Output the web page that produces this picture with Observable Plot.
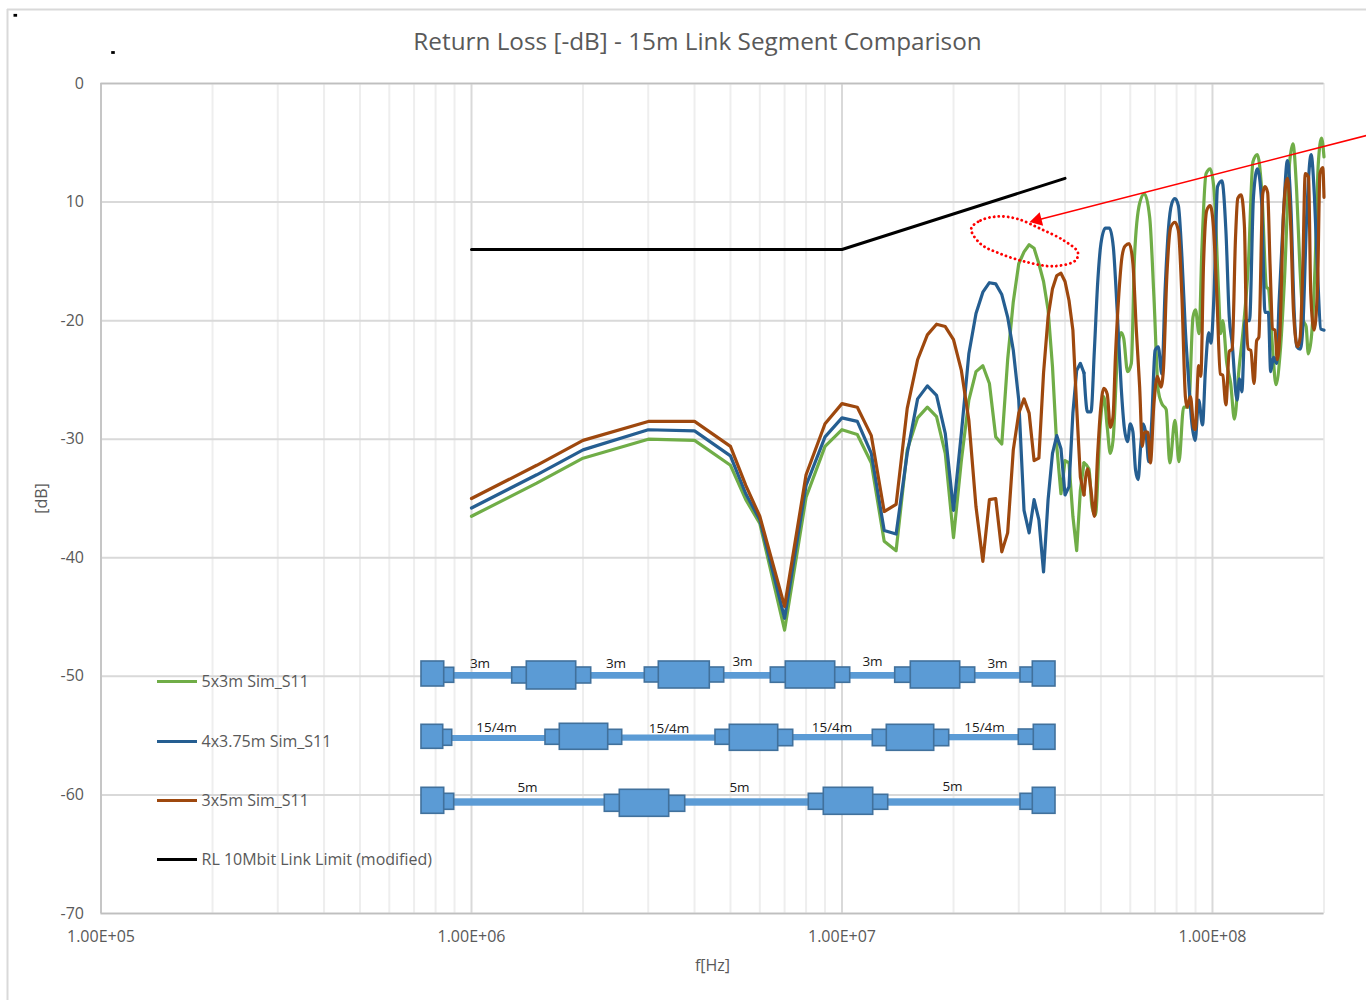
<!DOCTYPE html>
<html>
<head>
<meta charset="utf-8">
<script src="https://cdn.jsdelivr.net/npm/d3@7"></script>
<script src="https://cdn.jsdelivr.net/npm/@observablehq/plot@0.6"></script>
<style>html,body{margin:0;padding:0;background:#fff}svg{display:block}</style>
</head>
<body>
<div id="chart"></div>
<script>
// Return-loss series: [frequency in MHz, dB]
const green5x3 = [[1,-36.5],[1.5,-33.7],[2,-31.6],[3,-30],[4,-30.1],[5,-32.2],[5.5,-35.1],[6,-37.1],[7,-46.1],[8,-34.9],[9,-30.6],[10,-29.2],[11,-29.6],[12,-32],[13,-38.6],[14,-39.4],[15,-30.9],[16,-28.2],[17,-27.3],[18,-28.1],[19,-31.2],[20,-38.3],[21,-31.8],[22,-26.7],[23,-24.3],[24,-23.8],[25,-25.3],[26,-29.8],[27,-30.4],[28,-23.3],[29,-18.4],[30,-15.2],[31,-14.2],[32,-13.6],[33,-13.9],[34,-15.2],[35,-16.7],[36,-19.1],[37,-23.9],[38,-30.6],[39,-34.6],[40,-31.8],[41,-32],[42,-36.5],[43,-39.4],[44,-34.3],[45,-32],[46.4,-32.5],[47.3,-35.7],[48.3,-36.4],[49.8,-28.7],[50.9,-26.4],[52,-29],[53,-31.2],[53.9,-30.1],[55.6,-22.2],[56.7,-21],[57.6,-21.5],[59,-24.3],[60.4,-23.6],[61.6,-14.6],[63.6,-10.1],[65.5,-9.3],[67.7,-11.3],[69.5,-18],[71.4,-25.9],[73,-27],[75,-27.5],[76.7,-32],[79.2,-28.4],[81.2,-31.9],[83.6,-27.3],[86.2,-27.3],[88.6,-19.7],[90,-19.1],[92,-21.1],[93.6,-14.1],[96.1,-7.6],[98.6,-7.2],[101,-9],[103.8,-17.4],[105.3,-21.1],[106.6,-20],[109.3,-23.6],[112,-25.3],[114.6,-28.3],[118,-24],[121,-20.8],[125,-15.2],[128.6,-6.6],[132.2,-6],[135.8,-9],[140,-17.2],[141.5,-17.3],[145.4,-22.5],[148.4,-25.4],[152.3,-22.7],[156.4,-16.6],[161.4,-6.8],[164.9,-5.1],[168.7,-9],[172.2,-15.5],[176,-20],[179,-20.5],[181.4,-22.8],[185.3,-21.1],[189,-15.8],[193,-6.8],[197,-4.6],[200,-6.2]];
const blue4x375 = [[1,-35.8],[1.5,-33],[2,-30.9],[3,-29.2],[4,-29.3],[5,-31.4],[5.5,-34.6],[6,-36.8],[7,-45.1],[8,-33.9],[9,-29.8],[10,-28.2],[11,-28.5],[12,-31.2],[13,-37.7],[14,-38],[15,-31.2],[16,-26.6],[17,-25.5],[18,-26.3],[19,-29.5],[20,-36],[21,-29.5],[22,-22.8],[23,-19.4],[24,-17.6],[25,-16.8],[26,-16.9],[27,-17.8],[28,-19.7],[29,-22.5],[30,-26.7],[31,-36],[32,-37.9],[33,-35.1],[34,-36.8],[35,-41.2],[36,-35.1],[37,-31.2],[38,-29.7],[39,-30.8],[40,-34.7],[41,-34],[42,-27.8],[43,-24.2],[44,-23.6],[45,-24.4],[46,-27.7],[47,-27.7],[48,-22.5],[49,-16.8],[50,-13.5],[51.4,-12.2],[52.7,-12.2],[54,-13.8],[55.3,-19.1],[56.7,-25.6],[57.8,-29],[59,-30.2],[60,-28.7],[61,-29.4],[62,-32.6],[63,-33.4],[64,-30.6],[65,-28.7],[66.3,-29.8],[67.3,-31.9],[68.5,-28.7],[70,-22.5],[71.4,-22.2],[73,-24.5],[74.5,-17.4],[76,-12.4],[77.7,-10.1],[79.2,-9.7],[80.9,-10.3],[82.7,-14.6],[84.5,-20.8],[86.2,-25],[88,-28.7],[89.8,-30.1],[91.8,-26.7],[94,-28.8],[95.7,-24.2],[97.7,-21],[99,-21.9],[101,-17.7],[103.2,-8.7],[106,-8.2],[108.7,-12.4],[111,-19.7],[113,-21.9],[116.5,-26.7],[118.3,-24.9],[120,-26],[122.6,-20],[125.9,-20],[129,-9.6],[132.2,-7.2],[135.8,-10.1],[138.6,-19.3],[141.5,-19.3],[143.6,-24.3],[146.1,-23.1],[149,-23.6],[151.2,-18.6],[155.5,-11],[159.3,-6.5],[162.8,-10.4],[166.2,-19.3],[169,-22.2],[172.5,-22.4],[175.4,-20.5],[179.7,-11],[184.6,-6],[188.5,-9.6],[192.1,-15.8],[196,-20.7],[200,-20.8]];
const brown3x5 = [[1,-35],[1.5,-32.2],[2,-30.1],[3,-28.5],[4,-28.5],[5,-30.6],[5.5,-33.9],[6,-36.5],[7,-44.1],[8,-33],[9,-28.7],[10,-27],[11,-27.3],[12,-29.7],[13,-36.1],[14,-35.5],[15,-27.4],[16,-23.3],[17,-21.2],[18,-20.3],[19,-20.5],[20,-21.6],[21,-24.2],[22,-28.4],[23,-35.7],[24,-40.3],[25,-35.1],[26,-35],[27,-39.5],[28,-37.9],[29,-30.9],[30,-27.8],[31,-26.6],[32,-27.8],[33,-31.8],[34,-31.6],[35,-24.4],[36,-19.7],[37,-17.3],[38,-16.2],[39,-16],[40,-16.7],[41,-18.3],[42,-20.8],[43,-27.3],[44,-33.2],[45,-34.7],[46,-32.5],[47,-34.3],[48,-36.5],[49,-31.2],[49.8,-27.8],[50.9,-25.7],[52,-26.2],[53,-29],[53.9,-28.1],[54.7,-23.1],[55.9,-17.7],[57,-14.6],[58.1,-13.7],[59.6,-13.5],[61,-15.2],[62.3,-20.8],[63.6,-25.6],[64.7,-30.6],[65.5,-29.4],[66.9,-29.4],[68,-32],[69.5,-27],[71,-24.7],[72.6,-25.6],[73.7,-24.2],[75.3,-16.3],[77.2,-12.1],[79.2,-11.7],[80.9,-12.4],[82.7,-18],[84.5,-26.4],[85.4,-27.3],[87.2,-26.4],[89,-29],[89.8,-29.2],[91.8,-23.8],[93,-24.7],[94.6,-15.2],[96.5,-10.7],[98.6,-10.3],[100.6,-12.1],[102.8,-18],[105,-24.5],[106.6,-24.6],[108.7,-27.1],[111,-22.6],[113,-22.4],[115.4,-13],[117,-9.7],[119.5,-9.4],[122,-12.1],[123.4,-20],[125,-22.4],[126.9,-22.5],[129.5,-25.3],[131.6,-21.7],[133.4,-21.4],[136.7,-9.3],[138.6,-8.7],[140.9,-9.2],[143,-15.2],[145.4,-20.7],[147.5,-20.8],[149.6,-23.3],[152.3,-20.5],[155.5,-11],[159.3,-8],[162.8,-12.4],[165.5,-19.3],[169.7,-22.2],[172.5,-21.4],[175.4,-15.2],[178,-7.6],[181.7,-7.9],[184.2,-17.7],[188,-20.8],[192.1,-17.2],[195,-7.6],[198.5,-7.1],[200,-9.6]];
const limitLine = [[1,-14],[10,-14],[40,-8]];

const seriesList = [
  {name:"5x3m Sim_S11", values:green5x3, color:"#70AD47"},
  {name:"4x3.75m Sim_S11", values:blue4x375, color:"#255E91"},
  {name:"3x5m Sim_S11", values:brown3x5, color:"#9E480E"},
  {name:"RL 10Mbit Link Limit (modified)", values:limitLine, color:"#000000"}
];

const xTicks = [1e5,1e6,1e7,1e8];
const xMinor = [2,3,4,5,6,7,8,9].flatMap(m => [1e5,1e6,1e7].map(d => m*d)).concat([2e8]);
const yTicks = [0,-10,-20,-30,-40,-50,-60,-70];
const yTickLabels = ["0","10","-20","-30","-40","-50","-60","-70"];

// Annotation layer, in its own schematic units of the 1366x1000 page
const schematicCables = [
 [453,512,672,678.7],[590,645,672,678.7],[723,771,672,678.7],[849,895,672,678.7],[974,1021,672,678.7],
 [451,546,735,741],[621,716,734.5,740.7],[792,873,734,740.3],[948,1019,734,740.3],
 [453,605,798.3,805.7],[684,809,798.3,805.7],[887,1021,798.3,805.7]
];
const schematicJoints = [
 [442.3,453.7,667.3,682.3],[511.7,526.7,667,683],[575,590.7,667,683],[644.3,659,667,682],[708.3,723.7,667,682],[770.3,785.7,667,682.3],[833.7,849.7,667,682.3],[894.7,910.7,667,682.3],[958.7,974.7,667,682.3],[1020,1034,667,682],
 [441.7,451.7,729.3,745.3],[545,560.3,729.3,744.3],[606.7,621.7,729.3,744.3],[715,730,729.3,744.3],[777,792.7,729.3,745.7],[872.3,887.3,729.3,745.7],[933,948.7,729.3,745.7],[1018.3,1034,729,744.3],
 [442.3,453.7,793.3,809.3],[604.3,620,794.3,811.3],[667.7,684.7,795.3,811.3],[808.3,823.7,793.3,809.3],[871.7,887.7,794.3,809.3],[1020,1034,793.3,809.3]
];
const schematicBlocks = [
 [421,443.7,661,686],[526.3,575.7,661,689],[658.3,709.3,661,688],[785.3,834.7,661,688],[910.3,959.7,661,688],[1032.3,1055,661,686],
 [421,442.7,724.3,748.3],[559.3,607.7,723.3,749.3],[729.3,777.7,724.3,750.3],[886.3,933.7,724.3,750.3],[1033.3,1055,724.3,749.3],
 [421,443.7,787.3,813.3],[619.3,668.7,789.3,816.3],[823.3,872.7,787.3,814.3],[1032.3,1055,787.3,813.3]
];
const schematicLabels = [
 ["3m",479.5,663],["3m",615.5,663],["3m",742,661],["3m",872,661],["3m",997,663],
 ["15/4m",496,727],["15/4m",668.5,728],["15/4m",831.5,727],["15/4m",984,727],
 ["5m",527,787],["5m",739,787],["5m",952,786]
];
const legendRows = [681,741,800,859];
const calloutEllipse = [[970.7,228.3],[980,220],[996.7,216],[1016.7,218.3],[1040,228.3],[1063.3,240],[1077.3,251.7],[1075,260],[1053.3,265.7],[1026.7,261.7],[1000,253.3],[980,243.3]];
const calloutArrow = [[1366,135],[1037,219.5]];
const stray = [[15.3,15.3],[113,52.5]];
const pageFrame = {left:7, top:9};

const fontFamily = '"Open Sans", sans-serif';
const textGrey = "#595959";
const fmtSci = d => d.toExponential(2).toUpperCase().replace(/E\+(\d)$/, "E+0$1");

const annotationLayer = Plot.plot({
  width:1366, height:1000, margin:0,
  style:{background:"transparent", fontFamily},
  x:{domain:[0,1366], range:[0,1366], axis:null},
  y:{domain:[0,1000], range:[0,1000], axis:null},
  marks:[
    Plot.ruleX([pageFrame.left],{y1:pageFrame.top, y2:1000, stroke:"#d9d9d9", strokeWidth:2}),
    Plot.ruleY([pageFrame.top],{x1:pageFrame.left, x2:1366, stroke:"#d9d9d9", strokeWidth:2}),
    Plot.rect(stray,{x1:d=>d[0]-1.8, x2:d=>d[0]+1.8, y1:d=>d[1]-1.4, y2:d=>d[1]+1.4, fill:"#000"}),
    Plot.text(["Return Loss [-dB] - 15m Link Segment Comparison"],{x:()=>697, y:()=>42, text:d=>d, fontSize:24.3, fill:textGrey, lineAnchor:"middle"}),
    Plot.ruleY(seriesList,{x1:157, x2:197, y:(d,i)=>legendRows[i], stroke:d=>d.color, strokeWidth:2.8}),
    Plot.text(seriesList,{x:()=>201, y:(d,i)=>legendRows[i], text:d=>d.name, textAnchor:"start", fontSize:16, fill:textGrey, lineAnchor:"middle"}),
    Plot.rect(schematicCables,{x1:d=>d[0],x2:d=>d[1],y1:d=>d[2],y2:d=>d[3],fill:"#5B9BD5"}),
    Plot.rect(schematicJoints,{x1:d=>d[0],x2:d=>d[1],y1:d=>d[2],y2:d=>d[3],fill:"#5B9BD5",stroke:"#41719C",strokeWidth:1.6}),
    Plot.rect(schematicBlocks,{x1:d=>d[0],x2:d=>d[1],y1:d=>d[2],y2:d=>d[3],fill:"#5B9BD5",stroke:"#41719C",strokeWidth:1.6}),
    Plot.text(schematicLabels,{x:d=>d[1],y:d=>d[2],text:d=>d[0],fontSize:13.5,fontWeight:500,fill:"#1a1a1a",lineAnchor:"middle"}),
    Plot.line(calloutEllipse,{x:d=>d[0],y:d=>d[1],curve:"catmull-rom-closed",stroke:"#FF0000",strokeWidth:2.8,strokeDasharray:"0.1,4.6",strokeLinecap:"round",fill:"none"}),
    Plot.line(calloutArrow,{x:d=>d[0],y:d=>d[1],stroke:"#FF0000",strokeWidth:1.5}),
    Plot.dot([calloutArrow[1]],{x:d=>d[0],y:d=>d[1],symbol:"triangle",r:5.2,fill:"#FF0000",stroke:"none",rotate:-104.4})
  ]
});

const lowBand = d => d[0] <= 45;
const highBand = d => d[0] >= 45;

const chart = Plot.plot({
  width:1366, height:1000,
  marginLeft:100.5, marginRight:42.5, marginTop:83, marginBottom:87,
  style:{fontFamily, background:"#fff"},
  x:{type:"log", domain:[1e5,2e8]},
  y:{domain:[-70,0]},
  marks:[
    Plot.ruleX(xMinor,{stroke:"#eeeeee",strokeWidth:2}),
    Plot.ruleX(xTicks,{stroke:"#d9d9d9",strokeWidth:2}),
    Plot.ruleY(yTicks,{stroke:"#d9d9d9",strokeWidth:2}),
    Plot.ruleX([1e5],{stroke:"#bfbfbf",strokeWidth:1.5}),
    Plot.ruleY([-70,0],{stroke:"#bfbfbf",strokeWidth:1.5}),
    Plot.axisX({ticks:xTicks,tickFormat:fmtSci,tickSize:0,tickPadding:17.5,fontSize:16,fill:textGrey,label:"f[Hz]",labelAnchor:"center",labelArrow:"none",labelOffset:57}),
    Plot.axisY({ticks:yTicks,tickFormat:d=>yTickLabels[yTicks.indexOf(d)],tickSize:0,tickPadding:17,fontSize:16,fill:textGrey,label:"[dB]",labelAnchor:"center",labelArrow:"none",labelOffset:65}),
    ...seriesList.flatMap(s => {
      const w = s.color === "#000000" ? 3 : 3.2;
      return [
        Plot.line(s.values.filter(lowBand),{x:d=>d[0]*1e6,y:d=>d[1],stroke:s.color,strokeWidth:w,strokeLinejoin:"round"}),
        Plot.line(s.values.filter(highBand),{x:d=>d[0]*1e6,y:d=>d[1],curve:"monotone-x",stroke:s.color,strokeWidth:w,strokeLinejoin:"round"})
      ];
    }),
    () => annotationLayer
  ]
});
document.getElementById("chart").appendChild(chart);
</script>
</body>
</html>
